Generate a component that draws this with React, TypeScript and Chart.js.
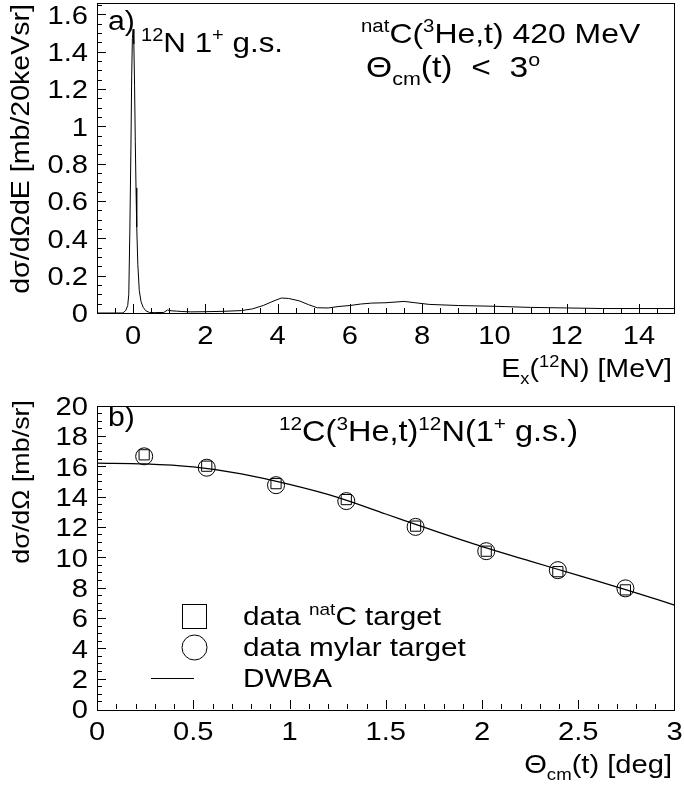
import React, { useEffect, useRef } from 'react';
import { Chart, registerables } from 'chart.js';
Chart.register(...registerables);

const FONT = '"Liberation Sans", Arial, Helvetica, sans-serif';
const FS = 25;
const SX = 1.12;
const TICK_FS = 26;

// ---------- Panel a) : excitation-energy spectrum ----------
const specE = [-1, -0.5, -0.3, -0.25, -0.2, -0.15, -0.12, -0.09, -0.06, -0.04, -0.02, 0, 0.02, 0.04, 0.06, 0.08, 0.1, 0.13, 0.17, 0.22, 0.28, 0.35, 0.45, 0.6, 0.85, 0.95, 1.05, 1.2, 1.35, 1.6, 2.0, 2.5, 3.0, 3.3, 3.6, 3.9, 4.1, 4.3, 4.6, 4.85, 5.1, 5.4, 5.7, 6.0, 6.3, 6.6, 7.0, 7.5, 7.8, 8.2, 9.0, 10.0, 11.0, 12.0, 13.0, 14.0, 15.0];
const specXs = [0, 0, 0, 0.005, 0.015, 0.04, 0.1, 0.45, 0.9, 1.27, 1.47, 1.52, 1.44, 1.22, 0.92, 0.67, 0.46, 0.26, 0.12, 0.06, 0.03, 0.012, 0.003, 0.002, 0.003, 0.016, 0.012, 0.01, 0.008, 0.006, 0.007, 0.009, 0.013, 0.022, 0.04, 0.065, 0.08, 0.078, 0.065, 0.045, 0.028, 0.027, 0.035, 0.04, 0.048, 0.053, 0.055, 0.062, 0.055, 0.046, 0.04, 0.036, 0.03, 0.027, 0.024, 0.024, 0.024];
const aXTicks = [0, 2, 4, 6, 8, 10, 12, 14];
const aXTickLabels = ['0', '2', '4', '6', '8', '10', '12', '14'];
const aYTicks = [0, 0.2, 0.4, 0.6, 0.8, 1.0, 1.2, 1.4, 1.6];
const aYTickLabels = ['0', '0.2', '0.4', '0.6', '0.8', '1', '1.2', '1.4', '1.6'];

// ---------- Panel b) : angular distribution ----------
const thetaCm = [0.245, 0.57, 0.93, 1.295, 1.655, 2.022, 2.394, 2.745];
const natCXs = [16.75, 16.0, 14.85, 13.8, 12.05, 10.4, 9.05, 7.85];
const mylarXs = [16.65, 15.9, 14.75, 13.7, 12.0, 10.4, 9.15, 7.95];
const dwbaTheta = [0, 0.25, 0.5, 0.75, 1.0, 1.25, 1.5, 1.75, 2.0, 2.25, 2.5, 2.75, 3.0];
const dwbaXs = [16.2, 16.15, 15.95, 15.5, 14.8, 13.95, 12.85, 11.75, 10.7, 9.75, 8.8, 7.85, 6.85];
const bXTicks = [0, 0.5, 1, 1.5, 2, 2.5, 3];
const bXTickLabels = ['0', '0.5', '1', '1.5', '2', '2.5', '3'];
const bYTicks = [0, 2, 4, 6, 8, 10, 12, 14, 16, 18, 20];
const bYTickLabels = ['0', '2', '4', '6', '8', '10', '12', '14', '16', '18', '20'];

type Seg = { t: string; s?: 'sup' | 'sub' };

function segFont(size: number, s?: string) {
  const sz = s ? size * 0.64 : size;
  return `${sz}px ${FONT}`;
}

function drawRich(ctx: CanvasRenderingContext2D, segs: Seg[], x: number, y: number, align: 'left' | 'right' | 'center', rot = false, size = FS, sx = SX) {
  ctx.save();
  ctx.translate(x, y);
  if (rot) ctx.rotate(-Math.PI / 2);
  ctx.fillStyle = '#000';
  ctx.textBaseline = 'alphabetic';
  ctx.textAlign = 'left';
  let total = 0;
  const widths = segs.map((sg) => {
    ctx.font = segFont(size, sg.s);
    const w = ctx.measureText(sg.t).width * sx;
    total += w;
    return w;
  });
  let cur = align === 'right' ? -total : align === 'center' ? -total / 2 : 0;
  segs.forEach((sg, i) => {
    ctx.font = segFont(size, sg.s);
    const dy = sg.s === 'sup' ? -size * 0.38 : sg.s === 'sub' ? size * 0.26 : 0;
    ctx.save();
    ctx.translate(cur, dy);
    ctx.scale(sx, 1);
    ctx.fillText(sg.t, 0, 0);
    ctx.restore();
    cur += widths[i];
  });
  ctx.restore();
}

function range(a: number, b: number, st: number) {
  const out: number[] = [];
  for (let v = a; v <= b + 1e-9; v += st) out.push(Math.round(v * 1000) / 1000);
  return out;
}

type TextItem = { segs: Seg[]; x: number; y: number; align?: 'left' | 'right' | 'center'; rot?: boolean; size?: number };

const framePlugin = {
  id: 'rootFrame',
  afterDraw(chart: any, _args: any, opts: any) {
    const ctx: CanvasRenderingContext2D = chart.ctx;
    const { left, right, top, bottom } = chart.chartArea;
    const xs = chart.scales.x;
    const ys = chart.scales.y;
    ctx.save();
    ctx.strokeStyle = '#000';
    ctx.lineWidth = 1;
    ctx.strokeRect(Math.round(left) + 0.5, Math.round(top) + 0.5, Math.round(right - left) - 1, Math.round(bottom - top));
    const majLen = 9;
    const minLen = 5;
    ctx.beginPath();
    const isMaj = (arr: number[], v: number) => arr.some((m) => Math.abs(m - v) < 1e-6);
    opts.xMinor.forEach((v: number) => {
      const px = Math.round(xs.getPixelForValue(v)) + 0.5;
      const len = isMaj(opts.xMajor, v) ? majLen : minLen;
      ctx.moveTo(px, bottom);
      ctx.lineTo(px, bottom - len);
    });
    opts.yMinor.forEach((v: number) => {
      const py = Math.round(ys.getPixelForValue(v)) + 0.5;
      const len = isMaj(opts.yMajor, v) ? majLen : minLen;
      ctx.moveTo(left, py);
      ctx.lineTo(left + len, py);
    });
    ctx.stroke();
    ctx.restore();
    // tick labels
    opts.xMajor.forEach((v: number, i: number) => {
      drawRich(ctx, [{ t: opts.xLabels[i] }], xs.getPixelForValue(v), bottom + 31, 'center', false, TICK_FS);
    });
    opts.yMajor.forEach((v: number, i: number) => {
      drawRich(ctx, [{ t: opts.yLabels[i] }], left - 9, ys.getPixelForValue(v) + 9.3, 'right', false, TICK_FS);
    });
    (opts.texts as TextItem[]).forEach((t) => drawRich(ctx, t.segs, t.x, t.y, t.align || 'left', !!t.rot, t.size || FS));
    if (opts.legend) {
      ctx.save();
      ctx.strokeStyle = '#000';
      ctx.lineWidth = 1;
      ctx.strokeRect(182.5, 208.5, 24, 24);
      ctx.beginPath();
      ctx.arc(194.5, 251.5, 12.5, 0, Math.PI * 2);
      ctx.stroke();
      ctx.beginPath();
      ctx.moveTo(151, 282.5);
      ctx.lineTo(194, 282.5);
      ctx.stroke();
      ctx.restore();
      drawRich(ctx, [{ t: 'data ' }, { t: 'nat', s: 'sup' }, { t: 'C target' }], 243, 229, 'left', false, 26.5);
      drawRich(ctx, [{ t: 'data mylar target' }], 243, 260, 'left', false, 26.5);
      drawRich(ctx, [{ t: 'DWBA' }], 243, 291, 'left', false, 26.5);
    }
  },
};

const W = 684;
const H1 = 396;
const H2 = 394;

function baseOptions(xmin: number, xmax: number, ymin: number, ymax: number, h: number, plug: any) {
  return {
    responsive: false,
    animation: false as const,
    events: [] as any[],
    layout: { padding: { left: 0, right: 9, top: 3, bottom: 0 } },
    plugins: { legend: { display: false }, tooltip: { enabled: false }, rootFrame: plug },
    scales: {
      x: {
        type: 'linear' as const, min: xmin, max: xmax,
        grid: { display: false }, border: { display: false }, ticks: { display: false },
        afterFit: (s: any) => { s.height = h - 313; },
      },
      y: {
        type: 'linear' as const, min: ymin, max: ymax,
        grid: { display: false }, border: { display: false }, ticks: { display: false },
        afterFit: (s: any) => { s.width = 97; },
      },
    },
  };
}

export default function App() {
  const refA = useRef<HTMLCanvasElement>(null);
  const refB = useRef<HTMLCanvasElement>(null);
  useEffect(() => {
    document.body.style.margin = '0';
    document.body.style.background = '#fff';
    const chartA = new Chart(refA.current!, {
      type: 'line',
      data: {
        datasets: [{
          data: specE.map((e, i) => ({ x: e, y: specXs[i] })),
          borderColor: '#000', borderWidth: 1, pointRadius: 0, tension: 0, fill: false,
        }],
      },
      options: baseOptions(-1, 15, 0, 1.66, H1, {
        xMajor: aXTicks, xMinor: range(-0.5, 14.5, 0.5), xLabels: aXTickLabels,
        yMajor: aYTicks, yMinor: range(0, 1.65, 0.05), yLabels: aYTickLabels,
        texts: [
          { segs: [{ t: 'a)' }], x: 108, y: 30, size: 27 },
          { segs: [{ t: '12', s: 'sup' }, { t: 'N 1' }, { t: '+', s: 'sup' }, { t: ' g.s.' }], x: 141, y: 52, size: 28 },
          { segs: [{ t: 'nat', s: 'sup' }, { t: 'C(' }, { t: '3', s: 'sup' }, { t: 'He,t) 420 MeV' }], x: 361, y: 43, size: 28.5 },
          { segs: [{ t: 'Θ' }, { t: 'cm', s: 'sub' }, { t: '(t)  <  3' }, { t: 'o', s: 'sup' }], x: 366, y: 77, size: 30 },
          { segs: [{ t: 'E' }, { t: 'x', s: 'sub' }, { t: '(' }, { t: '12', s: 'sup' }, { t: 'N) [MeV]' }], x: 672, y: 377, align: 'right', size: 25.5 },
          { segs: [{ t: 'dσ/dΩdE [mb/20keVsr]' }], x: 29, y: 4, align: 'right', rot: true, size: 25.5 },
        ],
      }) as any,
      plugins: [framePlugin],
    });
    const chartB = new Chart(refB.current!, {
      type: 'scatter',
      data: {
        datasets: [
          {
            type: 'line',
            data: dwbaTheta.map((t, i) => ({ x: t, y: dwbaXs[i] })),
            borderColor: '#000', borderWidth: 1.3, pointRadius: 0, cubicInterpolationMode: 'monotone', fill: false,
          } as any,
          {
            data: thetaCm.map((t, i) => ({ x: t, y: natCXs[i] })),
            pointStyle: 'rect', pointRadius: 7.2, borderColor: '#000', borderWidth: 1, backgroundColor: 'rgba(0,0,0,0)',
          },
          {
            data: thetaCm.map((t, i) => ({ x: t, y: mylarXs[i] })),
            pointStyle: 'circle', pointRadius: 8.5, borderColor: '#000', borderWidth: 1, backgroundColor: 'rgba(0,0,0,0)',
          },
        ],
      },
      options: baseOptions(0, 3, 0, 20, H2, {
        xMajor: bXTicks, xMinor: range(0.1, 2.9, 0.1), xLabels: bXTickLabels,
        yMajor: bYTicks, yMinor: range(0.5, 19.5, 0.5), yLabels: bYTickLabels,
        legend: true,
        texts: [
          { segs: [{ t: 'b)' }], x: 108, y: 30, size: 27 },
          { segs: [{ t: '12', s: 'sup' }, { t: 'C(' }, { t: '3', s: 'sup' }, { t: 'He,t)' }, { t: '12', s: 'sup' }, { t: 'N(1' }, { t: '+', s: 'sup' }, { t: ' g.s.)' }], x: 279, y: 45, size: 29 },
          { segs: [{ t: 'Θ' }, { t: 'cm', s: 'sub' }, { t: '(t) [deg]' }], x: 672, y: 377, align: 'right', size: 26 },
          { segs: [{ t: 'dσ/dΩ [mb/sr]' }], x: 29, y: 4, align: 'right', rot: true, size: 24 },
        ],
      }) as any,
      plugins: [framePlugin],
    });
    return () => { chartA.destroy(); chartB.destroy(); };
  }, []);
  return (
    <div style={{ position: 'relative', width: W, height: H1 + H2, background: '#fff' }}>
      <canvas ref={refA} width={W} height={H1} style={{ display: 'block', width: W, height: H1 }} />
      <canvas ref={refB} width={W} height={H2} style={{ display: 'block', width: W, height: H2 }} />
    </div>
  );
}
